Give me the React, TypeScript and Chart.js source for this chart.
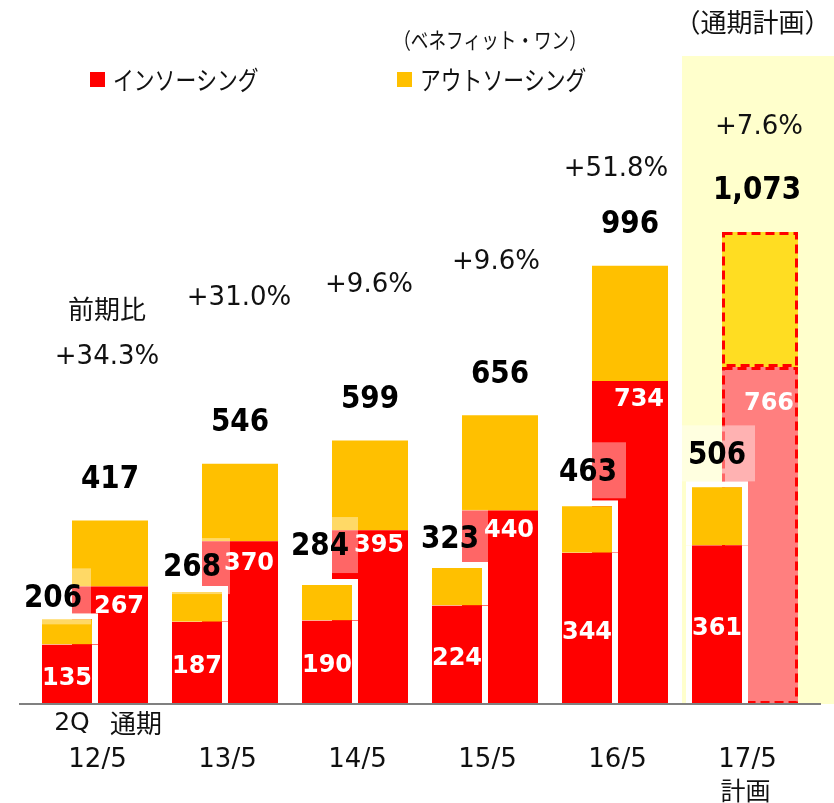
import React, { useEffect, useRef } from 'react';
import { Chart, registerables } from 'chart.js';

Chart.register(...registerables);

// ---- data ----
const categories = ['12/5', '13/5', '14/5', '15/5', '16/5', '17/5'];
const halfInsourcing = [135, 187, 190, 224, 344, 361];
const halfOutsourcing = [71, 81, 94, 99, 119, 145];
const halfTotalLabels = ['206', '268', '284', '323', '463', '506'];
const fullInsourcing = [267, 370, 395, 440, 734, 766];
const fullOutsourcing = [150, 176, 204, 216, 262, 307];
const fullTotalLabels = ['417', '546', '599', '656', '996', '1,073'];
const growthLabels = ['+34.3%', '+31.0%', '+9.6%', '+9.6%', '+51.8%', '+7.6%'];
const legendLabels = ['インソーシング', 'アウトソーシング'];

// ---- layout (not data) ----
const PLAN_INDEX = 5;
const HALF_LABEL_DX = [-14, -5, -7, -7, 1, 0];
const HALF_LABEL_DY = [-15, -18, -32, -22, -28, -26];
const FULL_INNER_DY = [20, 23, 16, 20, 19, 37];
const GROWTH_DX = [18.5, 20.5, 20.5, 17.5, 7.5, 20.5];
const GROWTH_YVAL = [788, 923, 952, 1005, 1216, 1311];

const C_RED = '#FF0000';
const C_YEL = '#FFC000';
const C_PINK = '#FF7F7F';
const C_PLAN_YEL = '#FFDD22';

const NUM_FONT = '"DejaVu Sans", Verdana, sans-serif';
const JP_FONT = '"Noto Sans CJK JP", "Noto Sans", sans-serif';

function drawText(
  ctx: CanvasRenderingContext2D,
  text: string,
  x: number,
  y: number,
  font: string,
  color: string,
  scaleX = 1,
  align: CanvasTextAlign = 'center'
) {
  ctx.save();
  ctx.font = font;
  ctx.fillStyle = color;
  ctx.textAlign = align;
  ctx.textBaseline = 'middle';
  ctx.translate(x, y);
  ctx.scale(scaleX, 1);
  ctx.fillText(text, 0, 0);
  ctx.restore();
}

const overlayPlugin = {
  id: 'overlay',
  beforeDatasetsDraw(chart: any) {
    const { ctx, scales } = chart;
    const x = scales.x;
    const y = scales.y;
    const left = x.getPixelForValue(PLAN_INDEX) - 56.5;
    const bottom = y.getPixelForValue(0);
    ctx.save();
    ctx.fillStyle = '#FFFFCC';
    ctx.fillRect(left, 56, chart.width - left, bottom - 56);
    ctx.restore();
  },
  afterDatasetDraw(chart: any, args: any) {
    if (args.index !== 2) return;
    const { ctx } = chart;
    const els = [chart.getDatasetMeta(2).data[PLAN_INDEX], chart.getDatasetMeta(3).data[PLAN_INDEX]];
    ctx.save();
    ctx.strokeStyle = '#FF0000';
    ctx.lineWidth = 3;
    ctx.setLineDash([9, 5]);
    for (const el of els) {
      const l = el.x - el.width / 2 + 1.5;
      const r = el.x + el.width / 2 - 1.5;
      const t = Math.min(el.y, el.base) + 1.5;
      const b = Math.max(el.y, el.base) - 1.5;
      ctx.strokeRect(l, t, r - l, b - t);
    }
    ctx.restore();
  },
  afterDatasetsDraw(chart: any) {
    const { ctx, scales, chartArea } = chart;
    const x = scales.x;
    const y = scales.y;
    const zeroY = y.getPixelForValue(0);

    // axis line
    ctx.save();
    ctx.strokeStyle = '#808080';
    ctx.lineWidth = 2;
    ctx.beginPath();
    ctx.moveTo(chartArea.left - 4.5, zeroY);
    ctx.lineTo(chartArea.right + 17.5, zeroY);
    ctx.stroke();
    ctx.restore();

    const mHalfIn = chart.getDatasetMeta(0);
    const mHalfOut = chart.getDatasetMeta(1);
    const mFullIn = chart.getDatasetMeta(2);
    const mFullOut = chart.getDatasetMeta(3);

    // translucent boxes behind 2Q totals
    categories.forEach((_, i) => {
      const el = mHalfOut.data[i];
      const lx = el.x + HALF_LABEL_DX[i];
      const ly = el.y + HALF_LABEL_DY[i];
      ctx.save();
      ctx.fillStyle = 'rgba(255,255,255,0.4)';
      ctx.fillRect(lx - 37, ly - 30, 75, 56);
      ctx.restore();
    });

    const boldNum = `bold 32px ${NUM_FONT}`;
    const innerNum = `bold 24px ${NUM_FONT}`;

    categories.forEach((_, i) => {
      // inner white labels
      const hi = mHalfIn.data[i];
      drawText(ctx, String(halfInsourcing[i]), hi.x, (hi.y + hi.base) / 2 + 4, innerNum, '#FFFFFF');
      const fi = mFullIn.data[i];
      drawText(ctx, String(fullInsourcing[i]), fi.x + 9, fi.y + FULL_INNER_DY[i], innerNum, '#FFFFFF');

      // 2Q totals
      const ho = mHalfOut.data[i];
      drawText(ctx, halfTotalLabels[i], ho.x + HALF_LABEL_DX[i], ho.y + HALF_LABEL_DY[i], boldNum, '#000', 0.87);

      // full totals
      const fo = mFullOut.data[i];
      drawText(ctx, fullTotalLabels[i], fo.x - (i === PLAN_INDEX ? 3 : 0), fo.y - 41, boldNum, '#000', 0.87);

      // growth
      const cx = x.getPixelForValue(i);
      drawText(ctx, growthLabels[i], cx + GROWTH_DX[i], y.getPixelForValue(GROWTH_YVAL[i]), `26px ${NUM_FONT}`, '#111');

      // category labels
      drawText(ctx, categories[i], cx + 9, 760, `26px ${NUM_FONT}`, '#111');
    });

    const c0 = x.getPixelForValue(0);
    const c5 = x.getPixelForValue(PLAN_INDEX);
    drawText(ctx, '前期比', c0 + GROWTH_DX[0], y.getPixelForValue(GROWTH_YVAL[0]) - 48, `26px ${JP_FONT}`, '#111');
    drawText(ctx, '2Q', c0 - 16.5, 723, `25px ${NUM_FONT}`, '#111');
    drawText(ctx, '通期', c0 + 47.5, 723, `26px ${JP_FONT}`, '#111');
    drawText(ctx, '計画', c5 + 7, 790, `25px ${JP_FONT}`, '#111');
    drawText(ctx, '（通期計画）', c5 + 14, 22, `26px ${JP_FONT}`, '#111');
    drawText(ctx, '（ベネフィット・ワン）', 490, 40, `22px ${JP_FONT}`, '#111', 0.8);

    // legend
    ctx.save();
    ctx.fillStyle = C_RED;
    ctx.fillRect(90, 72, 15, 15);
    ctx.fillStyle = C_YEL;
    ctx.fillRect(397, 72, 15, 15);
    ctx.restore();
    drawText(ctx, legendLabels[0], 113, 80, `26px ${JP_FONT}`, '#111', 0.8, 'left');
    drawText(ctx, legendLabels[1], 420, 80, `26px ${JP_FONT}`, '#111', 0.8, 'left');
  },
};

export default function App() {
  const ref = useRef<HTMLCanvasElement>(null);

  useEffect(() => {
    const canvas = ref.current;
    if (!canvas) return;
    const whiteSide = { left: 6, right: 6, top: 0, bottom: 0 };
    const whiteSideTop = { left: 6, right: 6, top: 6, bottom: 0 };
    const chart = new Chart(canvas, {
      type: 'bar',
      data: {
        labels: categories,
        datasets: [
          {
            label: legendLabels[0] + ' 2Q',
            data: halfInsourcing,
            stack: 'half',
            backgroundColor: C_RED,
            borderColor: '#FFFFFF',
            borderWidth: whiteSide as any,
            borderSkipped: false,
            inflateAmount: 0,
            maxBarThickness: 62,
          },
          {
            label: legendLabels[1] + ' 2Q',
            data: halfOutsourcing,
            stack: 'half',
            backgroundColor: C_YEL,
            borderColor: '#FFFFFF',
            borderWidth: whiteSideTop as any,
            borderSkipped: false,
            inflateAmount: 0,
            maxBarThickness: 62,
          },
          {
            label: legendLabels[0],
            data: fullInsourcing,
            stack: 'full',
            backgroundColor: fullInsourcing.map((_, i) => (i === PLAN_INDEX ? C_PINK : C_RED)),
            borderWidth: 0,
          },
          {
            label: legendLabels[1],
            data: fullOutsourcing,
            stack: 'full',
            backgroundColor: fullOutsourcing.map((_, i) => (i === PLAN_INDEX ? C_PLAN_YEL : C_YEL)),
            borderWidth: 0,
          },
        ],
      },
      options: {
        responsive: false,
        animation: false,
        devicePixelRatio: 1,
        layout: { padding: { left: 23.5, right: 30.5, top: 0, bottom: 99 } },
        datasets: {
          bar: {
            categoryPercentage: 86 / 130,
            barPercentage: 76 / 43,
          },
        },
        scales: {
          x: { display: false },
          y: { display: false, stacked: true, min: 0, max: 1600 },
        },
        plugins: {
          legend: { display: false },
          tooltip: { enabled: false },
        },
      },
      plugins: [overlayPlugin as any],
    });
    return () => chart.destroy();
  }, []);

  return (
    <div style={{ position: 'absolute', left: 0, top: 0, width: 834, height: 803, background: '#fff' }}>
      <canvas ref={ref} width={834} height={803} style={{ display: 'block', width: 834, height: 803 }} />
    </div>
  );
}
